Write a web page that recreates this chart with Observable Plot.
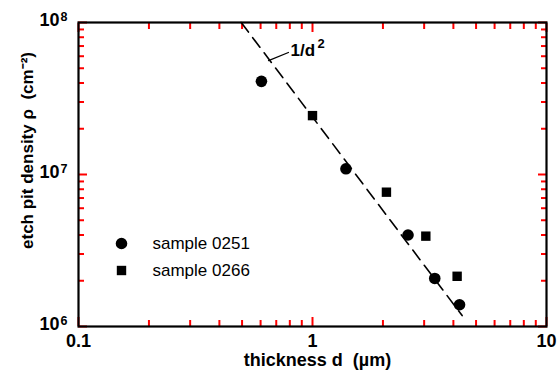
<!DOCTYPE html>
<html><head><meta charset="utf-8">
<script src="https://cdn.jsdelivr.net/npm/d3@7"></script>
<script src="https://cdn.jsdelivr.net/npm/@observablehq/plot@0.6"></script>
<style>body{margin:0;background:#fff;}</style>
</head><body><div id="chart"></div>
<script>
// sample 0251 (circles)
const s0251_d = [0.605, 1.39, 2.56, 3.33, 4.25];
const s0251_rho = [4.1e7, 1.09e7, 4.0e6, 2.07e6, 1.39e6];
// sample 0266 (squares)
const s0266_d = [1.0, 2.07, 3.05, 4.15];
const s0266_rho = [2.44e7, 7.65e6, 3.93e6, 2.14e6];
// 1/d^2 guide line (end points)
const fit_d = [0.496, 4.36];
const fit_rho = [1e8, 1.18e6];
// annotation "1/d^2" leader
const leader_d = [0.649, 0.789];
const leader_rho = [5.62e7, 6.35e7];
const fitLabelBase = "1/d";
const fitLabelExp = "2";
const fitLabel_d = [0.805];
const fitLabel_rho = [6.54e7];
// ticks
const xMajor = [0.1, 1, 10];
const xMajorLabels = ["0.1", "1", "10"];
const xMinor = [0.2, 0.3, 0.4, 0.5, 0.6, 0.7, 0.8, 0.9, 2, 3, 4, 5, 6, 7, 8, 9];
const yMajor = [1e6, 1e7, 1e8];
const yMajorBase = ["10", "10", "10"];
const yMajorExp = ["6", "7", "8"];
const yMinor = [2e6, 3e6, 4e6, 5e6, 6e6, 7e6, 8e6, 9e6, 2e7, 3e7, 4e7, 5e7, 6e7, 7e7, 8e7, 9e7];
// legend
const legendLabels = ["sample 0251", "sample 0266"];
const legendSymbols = ["circle", "square"];

const font = "Liberation Sans, Arial, Helvetica, sans-serif";
const txt = {fill: "black", fontWeight: "bold"};

const p0251 = s0251_d.map((d, i) => ({d, rho: s0251_rho[i]}));
const p0266 = s0266_d.map((d, i) => ({d, rho: s0266_rho[i]}));
const fit = fit_d.map((d, i) => ({d, rho: fit_rho[i]}));
const leader = leader_d.map((d, i) => ({d, rho: leader_rho[i]}));

const chart = Plot.plot({
  width: 558, height: 374,
  marginLeft: 78, marginRight: 12, marginTop: 22, marginBottom: 48,
  style: {fontFamily: font, background: "white"},
  x: {type: "log", domain: [0.1, 10]},
  y: {type: "log", domain: [1e6, 1e8]},
  marks: [
    // inward ticks via Plot's axis marks (negative tick size points into the frame)
    Plot.axisX(xMinor, {anchor: "bottom", tickSize: -6, tickFormat: () => "", label: null, strokeWidth: 2, stroke: "red"}),
    Plot.axisX(xMajor, {anchor: "bottom", tickSize: -9, tickFormat: () => "", label: null, strokeWidth: 2, stroke: "red"}),
    Plot.axisX(xMinor, {anchor: "top", tickSize: -6, tickFormat: () => "", label: null, strokeWidth: 2, stroke: "red"}),
    Plot.axisX(xMajor, {anchor: "top", tickSize: -9, tickFormat: () => "", label: null, strokeWidth: 2, stroke: "red"}),
    Plot.axisY(yMinor, {anchor: "left", tickSize: -6, tickFormat: () => "", label: null, strokeWidth: 2, stroke: "red"}),
    Plot.axisY(yMajor, {anchor: "left", tickSize: -9, tickFormat: () => "", label: null, strokeWidth: 2, stroke: "red"}),
    Plot.axisY(yMinor, {anchor: "right", tickSize: -6, tickFormat: () => "", label: null, strokeWidth: 2, stroke: "red"}),
    Plot.axisY(yMajor, {anchor: "right", tickSize: -9, tickFormat: () => "", label: null, strokeWidth: 2, stroke: "red"}),
    Plot.frame({stroke: "black", strokeWidth: 2.2}),
    // tick labels
    Plot.text(xMajor, {x: d => d, frameAnchor: "bottom", text: (d, i) => xMajorLabels[i],
      lineAnchor: "top", dy: 8, fontSize: 18, ...txt}),
    Plot.text(yMajor, {y: d => d, frameAnchor: "left", text: (d, i) => yMajorBase[i],
      textAnchor: "end", lineAnchor: "middle", dx: -19, dy: -2, fontSize: 18, ...txt}),
    Plot.text(yMajor, {y: d => d, frameAnchor: "left", text: (d, i) => yMajorExp[i],
      textAnchor: "start", lineAnchor: "top", dx: -18, dy: -10, fontSize: 12.5, ...txt}),
    // axis titles
    Plot.text(["thickness d  (µm)"], {frameAnchor: "bottom", text: d => d, dx: 5, dy: 34,
      lineAnchor: "middle", fontSize: 18, ...txt}),
    Plot.text(["etch pit density ρ  (cm⁻²)"], {frameAnchor: "left", text: d => d, rotate: -90,
      dx: -51, dy: -24, lineAnchor: "middle", textAnchor: "middle", fontSize: 17, ...txt}),
    // guide line
    Plot.line(fit, {x: "d", y: "rho", stroke: "black", strokeWidth: 1.6, strokeDasharray: "12,7"}),
    Plot.line(leader, {x: "d", y: "rho", stroke: "black", strokeWidth: 1.3}),
    Plot.text(fitLabel_d, {x: d => d, y: (d, i) => fitLabel_rho[i], text: () => fitLabelBase,
      textAnchor: "start", lineAnchor: "middle", fontSize: 17, ...txt}),
    Plot.text(fitLabel_d, {x: d => d, y: (d, i) => fitLabel_rho[i], text: () => fitLabelExp,
      textAnchor: "start", lineAnchor: "middle", dx: 27, dy: -7, fontSize: 13, ...txt}),
    // data
    Plot.dot(p0251, {x: "d", y: "rho", symbol: "circle", r: 5.8, fill: "black", stroke: "none"}),
    Plot.dot(p0266, {x: "d", y: "rho", symbol: "square", r: 5.3, fill: "black", stroke: "none"}),
    // legend
    Plot.dot([legendSymbols[0]], {frameAnchor: "bottom-left", symbol: d => d, r: 5.8,
      dx: 43, dy: -83, fill: "black", stroke: "none"}),
    Plot.dot([legendSymbols[1]], {frameAnchor: "bottom-left", symbol: d => d, r: 5.3,
      dx: 43, dy: -56, fill: "black", stroke: "none"}),
    Plot.text([legendLabels[0]], {frameAnchor: "bottom-left", text: d => d, textAnchor: "start",
      lineAnchor: "middle", dx: 74, dy: -83, fontSize: 17, fill: "black"}),
    Plot.text([legendLabels[1]], {frameAnchor: "bottom-left", text: d => d, textAnchor: "start",
      lineAnchor: "middle", dx: 74, dy: -56, fontSize: 17, fill: "black"})
  ]
});
document.getElementById("chart").appendChild(chart);
</script>
</body></html>
